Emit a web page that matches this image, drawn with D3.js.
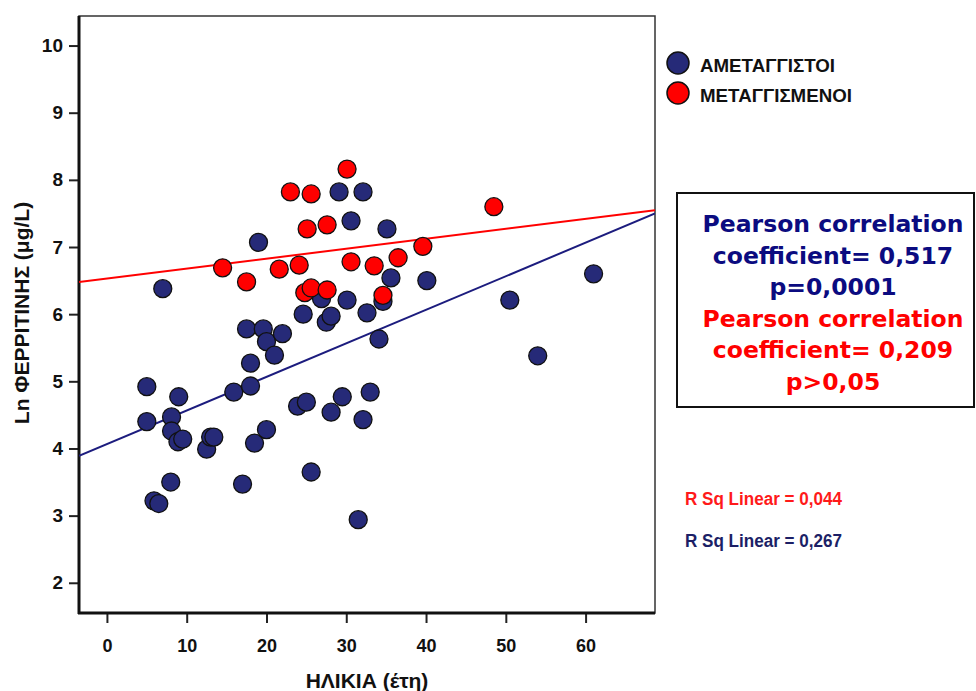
<!DOCTYPE html>
<html>
<head>
<meta charset="utf-8">
<script src="https://cdn.jsdelivr.net/npm/d3@7"></script>
<style>
  html, body { margin: 0; padding: 0; background: #fff; }
  svg { display: block; }
</style>
</head>
<body>
<svg id="chart" width="976" height="691"></svg>
<script>
// Age (years) and ln(ferritin) for the two patient groups
const ageUntransfused = [5.0, 5.0, 5.9, 6.5, 7.0, 8.0, 8.1, 8.1, 8.9, 9.0, 9.5, 12.5, 13.0, 13.4, 15.9, 17.0,
  17.5, 18.0, 18.0, 18.5, 19.0, 19.6, 20.0, 20.0, 21.0, 22.0, 23.9, 24.6, 25.0, 25.6, 26.9, 27.5, 28.1,
  28.1, 29.1, 29.5, 30.1, 30.6, 31.5, 32.1, 32.1, 32.6, 33.0, 34.1, 34.6, 35.1, 35.6, 40.1, 50.5, 54.0, 61.0];
const lnFerritinUntransfused = [4.92, 4.40, 3.22, 3.18, 6.38, 3.50, 4.47, 4.26, 4.10, 4.77, 4.14, 3.99, 4.17, 4.17, 4.84, 3.47,
  5.78, 4.93, 5.27, 4.08, 7.07, 5.78, 5.59, 4.28, 5.39, 5.71, 4.63, 6.00, 4.69, 3.65, 6.23, 5.88, 5.97,
  4.54, 7.82, 4.77, 6.21, 7.39, 2.94, 7.82, 4.43, 6.02, 4.84, 5.63, 6.19, 7.27, 6.54, 6.50, 6.21, 5.38, 6.60];

const ageTransfused = [14.5, 17.5, 21.6, 23.0, 24.1, 24.8, 25.1, 25.6, 25.6, 27.6, 27.6, 30.1, 30.6, 33.5, 34.6, 36.5, 39.6, 48.5];
const lnFerritinTransfused = [6.69, 6.48, 6.67, 7.82, 6.73, 6.32, 7.27, 7.79, 6.39, 7.33, 6.36, 8.16, 6.78, 6.72, 6.28, 6.84, 7.01, 7.60];

// Linear fit lines (intercept, slope) per group: untransfused, transfused
const groupNames = ["ΑΜΕΤΑΓΓΙΣΤΟΙ", "ΜΕΤΑΓΓΙΣΜΕΝΟΙ"];
const fitIntercepts = [4.065, 6.53];
const fitSlopes = [0.050, 0.0148];
const rSquaredLabels = ["R Sq Linear = 0,267", "R Sq Linear = 0,044"];

const xTicks = [0, 10, 20, 30, 40, 50, 60];
const yTicks = [2, 3, 4, 5, 6, 7, 8, 9, 10];

const statLines = [
  { text: "Pearson correlation", group: 0 },
  { text: "coefficient= 0,517", group: 0 },
  { text: "p=0,0001", group: 0 },
  { text: "Pearson correlation", group: 1 },
  { text: "coefficient= 0,209", group: 1 },
  { text: "p>0,05", group: 1 }
];

const markerFill = ["#262a78", "#ff0000"];
const lineColor = ["#1c1c7e", "#ff0000"];
const textColor = ["#0b0b80", "#ff0000"];
const rsqColor = ["#1c1f66", "#ff1a1a"];

const svg = d3.select("#chart");
const plot = { left: 79, top: 16, right: 655, bottom: 613 };

const x = d3.scaleLinear().domain([-3.5, 68.7]).range([plot.left, plot.right]);
const y = d3.scaleLinear().domain([1.55, 10.44]).range([plot.bottom, plot.top]);

svg.append("defs").append("clipPath").attr("id", "plotClip")
  .append("rect")
  .attr("x", plot.left).attr("y", plot.top)
  .attr("width", plot.right - plot.left).attr("height", plot.bottom - plot.top);

// Frame
svg.append("rect")
  .attr("x", plot.left).attr("y", plot.top)
  .attr("width", plot.right - plot.left).attr("height", plot.bottom - plot.top)
  .attr("fill", "none").attr("stroke", "#333").attr("stroke-width", 1.5);

// Axes
const labelFont = "'Liberation Sans', Arial, sans-serif";
const xAxis = svg.append("g")
  .attr("transform", `translate(0,${plot.bottom})`)
  .call(d3.axisBottom(x).tickValues(xTicks).tickSize(10).tickPadding(16).tickFormat(d3.format("d")));
const yAxis = svg.append("g")
  .attr("transform", `translate(${plot.left},0)`)
  .call(d3.axisLeft(y).tickValues(yTicks).tickSize(10).tickPadding(6).tickFormat(d3.format("d")));

[xAxis, yAxis].forEach(a => {
  a.select(".domain").remove();
  a.selectAll(".tick line").attr("stroke", "#222").attr("stroke-width", 2);
  a.selectAll(".tick text")
    .attr("fill", "#111")
    .attr("font-family", labelFont)
    .attr("font-weight", "bold");
});
xAxis.selectAll(".tick text").attr("font-size", 18);
yAxis.selectAll(".tick text").attr("font-size", 19);

// Heavier left and bottom axis lines
svg.append("line")
  .attr("x1", plot.left).attr("x2", plot.left)
  .attr("y1", plot.top).attr("y2", plot.bottom + 1)
  .attr("stroke", "#111").attr("stroke-width", 3);
svg.append("line")
  .attr("x1", plot.left - 1).attr("x2", plot.right)
  .attr("y1", plot.bottom).attr("y2", plot.bottom)
  .attr("stroke", "#111").attr("stroke-width", 3);

// Axis titles
svg.append("text")
  .attr("x", 367).attr("y", 688)
  .attr("text-anchor", "middle")
  .attr("font-family", labelFont).attr("font-weight", "bold").attr("font-size", 21)
  .attr("fill", "#111")
  .text("ΗΛΙΚΙΑ (έτη)");

svg.append("text")
  .attr("transform", "translate(29,313) rotate(-90)")
  .attr("text-anchor", "middle")
  .attr("font-family", labelFont).attr("font-weight", "bold").attr("font-size", 21)
  .attr("fill", "#111")
  .text("Ln ΦΕΡΡΙΤΙΝΗΣ (μg/L)");

// Fit lines
const plotArea = svg.append("g").attr("clip-path", "url(#plotClip)");
const xDom = x.domain();
[0, 1].forEach(g => {
  const pts = xDom.map(a => [x(a), y(fitIntercepts[g] + fitSlopes[g] * a)]);
  plotArea.append("path")
    .attr("d", d3.line()(pts))
    .attr("stroke", lineColor[g]).attr("stroke-width", 2).attr("fill", "none");
});

// Points
const groups = [
  d3.zip(ageUntransfused, lnFerritinUntransfused),
  d3.zip(ageTransfused, lnFerritinTransfused)
];
groups.forEach((pts, g) => {
  plotArea.append("g").selectAll("circle")
    .data(pts).join("circle")
    .attr("cx", d => x(d[0])).attr("cy", d => y(d[1]))
    .attr("r", 9)
    .attr("fill", markerFill[g])
    .attr("stroke", "#111").attr("stroke-width", 1.3);
});

// Legend
const legend = svg.append("g");
const legendWidths = [135, 152];
groupNames.forEach((name, i) => {
  const cy = 63 + i * 30;
  legend.append("circle")
    .attr("cx", 678).attr("cy", cy).attr("r", 11)
    .attr("fill", markerFill[i]).attr("stroke", "#111").attr("stroke-width", 1.5);
  legend.append("text")
    .attr("x", 700).attr("y", cy + 8.5)
    .attr("font-family", labelFont).attr("font-weight", "bold").attr("font-size", 19)
    .attr("textLength", legendWidths[i]).attr("lengthAdjust", "spacingAndGlyphs")
    .attr("fill", "#111")
    .text(name);
});

// Correlation box
svg.append("rect")
  .attr("x", 677).attr("y", 193)
  .attr("width", 297).attr("height", 214)
  .attr("fill", "#fff").attr("stroke", "#111").attr("stroke-width", 2);

svg.append("g").selectAll("text")
  .data(statLines).join("text")
  .attr("x", 833)
  .attr("y", (d, i) => 232 + i * 31.6)
  .attr("text-anchor", "middle")
  .attr("font-family", "'DejaVu Sans', Verdana, sans-serif")
  .attr("font-weight", "bold").attr("font-size", 23.5)
  .attr("fill", d => textColor[d.group])
  .text(d => d.text);

// R squared labels
[1, 0].forEach((g, i) => {
  svg.append("text")
    .attr("x", 685).attr("y", 505 + i * 42)
    .attr("font-family", labelFont).attr("font-weight", "bold").attr("font-size", 17.5)
    .attr("textLength", 157).attr("lengthAdjust", "spacingAndGlyphs")
    .attr("fill", rsqColor[g])
    .text(rSquaredLabels[g]);
});
</script>
</body>
</html>
